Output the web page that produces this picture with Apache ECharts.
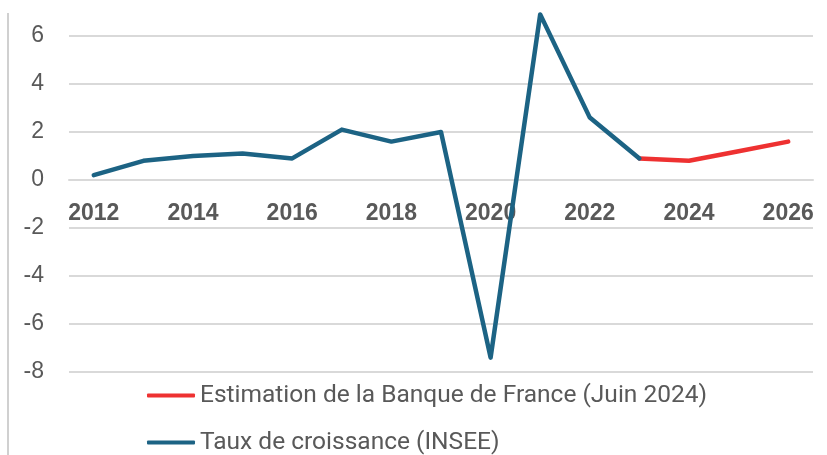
<!DOCTYPE html>
<html>
<head>
<meta charset="utf-8">
<script src="https://cdn.jsdelivr.net/npm/echarts@6/dist/echarts.min.js"></script>
<style>
  html, body { margin: 0; padding: 0; background: #ffffff; }
  #chart { width: 827px; height: 455px; }
</style>
</head>
<body>
<div id="chart"></div>
<script>
// Years shown on the horizontal axis
const years = ['2012', '2013', '2014', '2015', '2016', '2017', '2018', '2019',
               '2020', '2021', '2022', '2023', '2024', '2025', '2026'];

// GDP growth (%), INSEE annual figures
const tauxInsee = [0.2, 0.8, 1.0, 1.1, 0.9, 2.1, 1.6, 2.0, -7.4, 6.9, 2.6, 0.9,
                   null, null, null];

// Banque de France projection (June 2024), starting from the last observed year
const estimationBdf = [null, null, null, null, null, null, null, null, null, null, null,
                       0.9, 0.8, 1.2, 1.6];

const yMin = -8;
const yMax = 6;
const yStep = 2;

const textGrey = '#595959';
const gridGrey = '#d9d9d9';
const blue = '#1c6384';
const red = '#ee3131';

const gridTop = 36;
const gridBottom = 83;
const chartHeight = 455;

const chart = echarts.init(document.getElementById('chart'), null, { renderer: 'canvas' });

// The category axis sits on the zero line, so shift it up from the bottom of the grid
const plotHeight = chartHeight - gridTop - gridBottom;
const zeroOffset = -plotHeight * (0 - yMin) / (yMax - yMin);

chart.setOption({
  backgroundColor: '#ffffff',
  animation: false,
  grid: { left: 69, right: 14, top: gridTop, bottom: gridBottom, containLabel: false },
  legend: {
    orient: 'vertical',
    left: 147,
    top: 383,
    padding: 0,
    height: 72,
    itemWidth: 48,
    itemHeight: 4,
    itemGap: 22,
    icon: 'roundRect',
    textStyle: { color: textGrey, fontSize: 24.5, fontFamily: 'Roboto' },
    data: [
      { name: 'Estimation de la Banque de France (Juin 2024)', itemStyle: { color: red } },
      { name: 'Taux de croissance (INSEE)', itemStyle: { color: blue } }
    ]
  },
  xAxis: {
    type: 'category',
    data: years,
    boundaryGap: true,
    offset: zeroOffset,
    axisLine: { show: true, onZero: false, lineStyle: { color: gridGrey, width: 2 } },
    axisTick: { show: false },
    axisLabel: {
      interval: 1,
      margin: 22,
      color: textGrey,
      fontSize: 23,
      fontWeight: 'bold',
      fontFamily: 'Liberation Sans'
    },
    splitLine: { show: false }
  },
  yAxis: {
    type: 'value',
    min: yMin,
    max: yMax,
    interval: yStep,
    axisLine: { show: false },
    axisTick: { show: false },
    axisLabel: {
      margin: 25,
      color: textGrey,
      fontSize: 23,
      fontFamily: 'Liberation Sans'
    },
    splitLine: { show: true, lineStyle: { color: gridGrey, width: 2 } }
  },
  series: [
    {
      name: 'Estimation de la Banque de France (Juin 2024)',
      type: 'line',
      data: estimationBdf,
      showSymbol: false,
      symbol: 'none',
      clip: false,
      lineStyle: { color: red, width: 4.5, cap: 'round', join: 'round' },
      itemStyle: { color: red }
    },
    {
      name: 'Taux de croissance (INSEE)',
      type: 'line',
      data: tauxInsee,
      showSymbol: false,
      symbol: 'none',
      clip: false,
      lineStyle: { color: blue, width: 4.5, cap: 'round', join: 'round' },
      itemStyle: { color: blue }
    }
  ],
  graphic: [
    {
      type: 'line',
      shape: { x1: 8, y1: 13, x2: 8, y2: 455 },
      style: { stroke: '#d0d0d0', lineWidth: 2 },
      silent: true
    }
  ]
});
</script>
</body>
</html>
